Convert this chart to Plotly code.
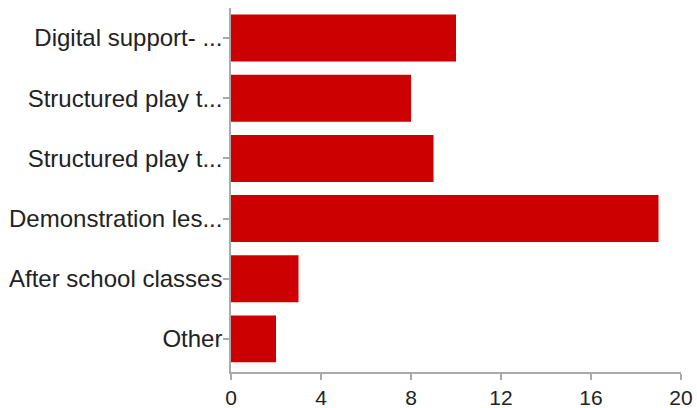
import plotly.graph_objects as go

labels = ["Digital support- ...", "Structured play t...", "Structured play t...",
          "Demonstration les...", "After school classes", "Other"]
values = [10, 8, 9, 19, 3, 2]
positions = list(range(len(labels)))
x_ticks = [0, 4, 8, 12, 16, 20]

fig = go.Figure(go.Bar(
    x=values, y=positions, orientation="h",
    marker=dict(color="#CC0000", line=dict(width=0)),
    width=0.78,
))

fig.update_layout(
    width=697, height=408,
    margin=dict(l=231, r=16, t=8, b=36, pad=0),
    paper_bgcolor="white", plot_bgcolor="white",
    font=dict(family="Liberation Sans, Arial, sans-serif", size=24, color="#222222"),
    showlegend=False,
    bargap=0.2,
)
fig.update_xaxes(
    range=[0, 20], tickvals=x_ticks, showgrid=False, zeroline=False,
    showline=True, linecolor="#AAAAAA", linewidth=1.5,
    ticks="outside", ticklen=6, tickcolor="#AAAAAA", tickwidth=1.5,
    tickfont=dict(size=21), automargin=False,
)
fig.update_yaxes(
    range=[5.55, -0.5], tickvals=positions, ticktext=labels,
    showgrid=False, zeroline=False,
    showline=True, linecolor="#AAAAAA", linewidth=1.5,
    ticks="outside", ticklen=6, tickcolor="#AAAAAA", tickwidth=1.5,
    tickfont=dict(size=24), automargin=False, ticklabelstandoff=-4,
)

fig.write_html(
    "out.html",
    config={"displayModeBar": False},
    post_script="document.body.style.margin='0';document.body.style.overflow='hidden';",
)
